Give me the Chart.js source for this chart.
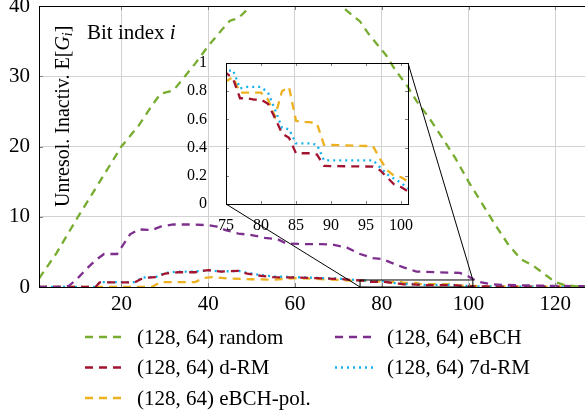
<!DOCTYPE html>
<html lang="en">
<head>
<meta charset="UTF-8" />
<title>Unresolved inactivations per bit index</title>
<script src="https://cdn.jsdelivr.net/npm/chart.js"></script>
<style>
  html, body { margin: 0; padding: 0; background: #fff; }
  #wrap { position: relative; width: 585px; height: 415px; overflow: hidden; }
  #main { position: absolute; left: 0; top: 0; }
  #inset { position: absolute; }
</style>
</head>
<body>
<div id="wrap">
  <canvas id="main" width="600" height="415"></canvas>
  <canvas id="inset" width="240" height="185"></canvas>
</div>
<script>
// tick values
const xTicks = [20, 40, 60, 80, 100, 120];
const yTicks = [0, 10, 20, 30, 40];
const insetXTicks = [75, 80, 85, 90, 95, 100];
const insetYTicks = [0, 0.2, 0.4, 0.6, 0.8, 1];

// (128, 64) random
const randomIdx = [1, 5, 10, 15, 20, 24, 27, 29, 32, 34, 37, 40, 43, 45, 47, 49, 51, 55, 58, 61,
  64, 67, 70, 72, 75, 77, 81, 83, 86, 88, 91, 94, 97, 100, 103, 106, 109, 112, 115, 118, 120, 122, 125, 128];
const randomVals = [1.2, 4.8, 10, 15, 20, 23, 25.8, 27.5, 28, 29.5, 31.8, 34.3, 36.5, 37.9, 38.3, 39.5, 41, 43.5, 44.8, 45.2,
  44.8, 43, 40.5, 39.3, 37.8, 36, 33, 31, 28.5, 26.5, 24, 21.2, 18.3, 15, 12, 9, 6.2, 4, 3, 1.6, 0.7, 0.3, 0.1, 0.05];

// (128, 64) eBCH
const ebchIdx = [1, 7, 8, 10, 12, 14, 16, 19, 22, 24, 27, 29, 32, 36, 40, 42, 44, 47, 50, 53,
  56, 58, 62, 66, 69, 72, 75, 78, 80, 82, 85, 88, 93, 98, 100, 102, 105, 108, 115, 128];
const ebchVals = [0, 0, 0.2, 1.3, 2.6, 3.8, 4.7, 4.7, 7.5, 8.2, 8.1, 8.6, 8.9, 8.9, 8.8, 8.6, 8.1, 7.6, 7.4, 7,
  6.8, 6.2, 6.1, 6.1, 6, 5.6, 4.7, 4.1, 4, 3.5, 2.8, 2.2, 2.1, 2, 1.5, 0.8, 0.4, 0.3, 0.2, 0.1];

// (128, 64) d-RM and 7d-RM share the same bit indices
const rmIdx = [1, 14, 15, 23, 25, 28, 30, 33, 37, 40, 43, 47, 49, 52, 55, 60, 65, 70, 73, 75,
  76, 77, 78, 79, 80, 81, 82, 83, 84, 85, 86, 87, 88, 89, 96, 97, 98, 99, 100, 101, 104, 110, 118, 128];
const drmVals = [0, 0, 0.65, 0.65, 1.3, 1.4, 1.9, 2.1, 2.1, 2.4, 2.2, 2.3, 1.9, 1.6, 1.4, 1.35, 1.25, 1.15, 1.0, 0.93,
  0.89, 0.75, 0.75, 0.74, 0.74, 0.71, 0.61, 0.5, 0.47, 0.36, 0.36, 0.36, 0.35, 0.27, 0.265, 0.24, 0.19, 0.14, 0.12, 0.09,
  0.07, 0.05, 0.04, 0.03];
const d7rmVals = [0, 0, 0.7, 0.7, 1.35, 1.45, 2.0, 2.2, 2.2, 2.4, 2.2, 2.3, 2.0, 1.7, 1.5, 1.4, 1.3, 1.2, 1.05, 0.94,
  0.95, 0.82, 0.83, 0.83, 0.83, 0.79, 0.67, 0.54, 0.53, 0.43, 0.43, 0.43, 0.42, 0.31, 0.31, 0.26, 0.21, 0.18, 0.15, 0.11,
  0.08, 0.06, 0.04, 0.03];

// (128, 64) eBCH-pol.
const polIdx = [1, 27, 29, 37, 39, 41, 45, 50, 55, 60, 65, 70, 73, 75,
  76, 77, 78, 79, 80, 81, 82, 83, 84, 85, 86, 87, 88, 89, 96, 97, 98, 99, 100, 101, 104, 110, 118, 128];
const polVals = [0, 0, 0.7, 0.7, 1.3, 1.4, 1.2, 1.1, 1.05, 1.25, 1.15, 1.0, 0.92, 0.87,
  0.9, 0.79, 0.79, 0.79, 0.79, 0.74, 0.62, 0.8, 0.83, 0.59, 0.58, 0.58, 0.57, 0.42, 0.41, 0.32, 0.24, 0.2, 0.19, 0.16,
  0.1, 0.06, 0.04, 0.03];

const SERIF = '"Liberation Serif", "DejaVu Serif", serif';
const INSET_LEFT = 180, INSET_TOP = 50;

function pts(xs, ys) {
  return xs.map((x, i) => ({ x: x, y: ys[i] }));
}

function makeSets() {
  return [
    { label: '(128, 64) random', data: pts(randomIdx, randomVals), borderColor: '#77ac30', borderDash: [8, 6] },
    { label: '(128, 64) eBCH', data: pts(ebchIdx, ebchVals), borderColor: '#7e2f8e', borderDash: [8, 6] },
    { label: '(128, 64) d-RM', data: pts(rmIdx, drmVals), borderColor: '#a2142f', borderDash: [8, 6] },
    { label: '(128, 64) 7d-RM', data: pts(rmIdx, d7rmVals), borderColor: '#14b1ee', borderDash: [2, 4] },
    { label: '(128, 64) eBCH-pol.', data: pts(polIdx, polVals), borderColor: '#edb120', borderDash: [8, 6] }
  ].map(d => Object.assign(d, { borderWidth: 2.3, pointRadius: 0, fill: false, tension: 0 }));
}

function drawSegments(ctx, segs, x, y) {
  let cx = x;
  for (const s of segs) {
    ctx.font = s.font;
    ctx.fillText(s.text, cx, y + (s.dy || 0));
    cx += ctx.measureText(s.text).width;
  }
}

// fixed axis sizes; drop the label overhang padding so the plot area is where we put it
function fixY(width) {
  return s => { s.width = width; s.paddingTop = 0; s.paddingBottom = 0; };
}
function fixX(height) {
  return s => { s.height = height; s.paddingLeft = 0; s.paddingRight = 0; };
}

// frame on all four sides plus short inner ticks, pgfplots style
function drawFrame(chart, tx, ty, len) {
  const ctx = chart.ctx, a = chart.chartArea;
  const xs = chart.scales.x, ys = chart.scales.y;
  ctx.save();
  ctx.strokeStyle = '#808080';
  ctx.lineWidth = 1;
  ctx.beginPath();
  tx.forEach(v => {
    const p = Math.round(xs.getPixelForValue(v)) + 0.5;
    ctx.moveTo(p, a.bottom); ctx.lineTo(p, a.bottom - len);
    ctx.moveTo(p, a.top); ctx.lineTo(p, a.top + len);
  });
  ty.forEach(v => {
    const p = Math.round(ys.getPixelForValue(v)) + 0.5;
    ctx.moveTo(a.left, p); ctx.lineTo(a.left + len, p);
    ctx.moveTo(a.right, p); ctx.lineTo(a.right - len, p);
  });
  ctx.stroke();
  ctx.strokeStyle = '#000';
  ctx.strokeRect(Math.round(a.left) + 0.5, Math.round(a.top) + 0.5,
    Math.round(a.right - a.left), Math.round(a.bottom - a.top));
  ctx.restore();
}

// ---- inset (zoom on bit indices 75..101) ----
const insetCanvas = document.getElementById('inset');
insetCanvas.style.left = INSET_LEFT + 'px';
insetCanvas.style.top = INSET_TOP + 'px';

const insetChart = new Chart(insetCanvas.getContext('2d'), {
  type: 'line',
  data: { datasets: makeSets().slice(2) },
  options: {
    responsive: false,
    animation: false,
    devicePixelRatio: 1,
    layout: { autoPadding: false, padding: { top: 13, right: 12, left: 0, bottom: 0 } },
    plugins: { legend: { display: false }, tooltip: { enabled: false } },
    scales: {
      x: {
        type: 'linear', min: 75, max: 101,
        afterBuildTicks: s => { s.ticks = insetXTicks.map(v => ({ value: v })); },
        afterFit: fixX(31),
        grid: { display: false },
        border: { display: false },
        ticks: { color: '#000', padding: 4, maxRotation: 0, font: { family: SERIF, size: 16 }, callback: v => String(v) }
      },
      y: {
        min: 0, max: 1,
        afterBuildTicks: s => { s.ticks = insetYTicks.map(v => ({ value: v })); },
        afterFit: fixY(46),
        grid: { display: false },
        border: { display: false },
        ticks: { color: '#000', padding: 11, font: { family: SERIF, size: 16 }, callback: v => String(v) }
      }
    }
  },
  plugins: [{
    id: 'insetFrame',
    afterDraw: chart => drawFrame(chart, insetXTicks, insetYTicks, 3)
  }]
});

// ---- main chart ----
const mainPlugin = {
  id: 'mainExtras',
  afterDatasetsDraw(chart) {
    const ctx = chart.ctx;
    const xs = chart.scales.x, ys = chart.scales.y;
    drawFrame(chart, xTicks, yTicks, 4);

    // zoom box and connector lines to the inset
    const ia = insetChart.chartArea;
    const bx0 = xs.getPixelForValue(75), bx1 = xs.getPixelForValue(101);
    const by0 = ys.getPixelForValue(0), by1 = ys.getPixelForValue(1);
    ctx.save();
    ctx.strokeStyle = '#000';
    ctx.lineWidth = 1;
    ctx.strokeRect(bx0, by1, bx1 - bx0, by0 - by1);
    ctx.beginPath();
    ctx.moveTo(INSET_LEFT + ia.left, INSET_TOP + ia.bottom);
    ctx.lineTo(bx0, by0);
    ctx.moveTo(INSET_LEFT + ia.right, INSET_TOP + ia.top);
    ctx.lineTo(bx1, by1);
    ctx.stroke();

    // axis labels placed inside the plot
    ctx.fillStyle = '#000';
    ctx.textBaseline = 'alphabetic';
    ctx.textAlign = 'left';
    drawSegments(ctx, [
      { text: 'Bit index ', font: '21px ' + SERIF },
      { text: 'i', font: 'italic 21px ' + SERIF }
    ], 87, 39);

    ctx.save();
    ctx.translate(69, 207);
    ctx.rotate(-Math.PI / 2);
    drawSegments(ctx, [
      { text: 'Unresol. Inactiv. E[', font: '20px ' + SERIF },
      { text: 'G', font: 'italic 20px ' + SERIF },
      { text: 'i', font: 'italic 14px ' + SERIF, dy: 3 },
      { text: ']', font: '20px ' + SERIF }
    ], 0, 0);
    ctx.restore();

    // legend, two columns filled row by row
    const colX = [85, 335];
    chart.data.datasets.forEach((ds, i) => {
      const x0 = colX[i % 2];
      const y = 337 + Math.floor(i / 2) * 30.5;
      ctx.save();
      ctx.strokeStyle = ds.borderColor;
      ctx.lineWidth = ds.borderWidth;
      ctx.setLineDash(ds.borderDash);
      ctx.beginPath();
      ctx.moveTo(x0, y);
      ctx.lineTo(x0 + 40, y);
      ctx.stroke();
      ctx.restore();
      ctx.font = '21px ' + SERIF;
      ctx.textBaseline = 'middle';
      ctx.fillText(ds.label, x0 + 52, y + 1);
    });
    ctx.restore();
  }
};

new Chart(document.getElementById('main').getContext('2d'), {
  type: 'line',
  data: { datasets: makeSets() },
  options: {
    responsive: false,
    animation: false,
    devicePixelRatio: 1,
    layout: { autoPadding: false, padding: { top: 6, right: 10, left: 0, bottom: 0 } },
    plugins: { legend: { display: false }, tooltip: { enabled: false } },
    scales: {
      x: {
        type: 'linear', min: 1, max: 128,
        afterBuildTicks: s => { s.ticks = xTicks.map(v => ({ value: v })); },
        afterFit: fixX(128),
        grid: { color: '#d2d2d2', drawTicks: false },
        border: { display: false },
        ticks: { color: '#000', padding: 5, maxRotation: 0, font: { family: SERIF, size: 21 }, callback: v => String(v) }
      },
      y: {
        min: 0, max: 40,
        afterBuildTicks: s => { s.ticks = yTicks.map(v => ({ value: v })); },
        afterFit: fixY(39),
        grid: { color: '#d2d2d2', drawTicks: false },
        border: { display: false },
        ticks: { color: '#000', padding: 9, font: { family: SERIF, size: 21 }, callback: v => String(v) }
      }
    }
  },
  plugins: [mainPlugin]
});
</script>
</body>
</html>
